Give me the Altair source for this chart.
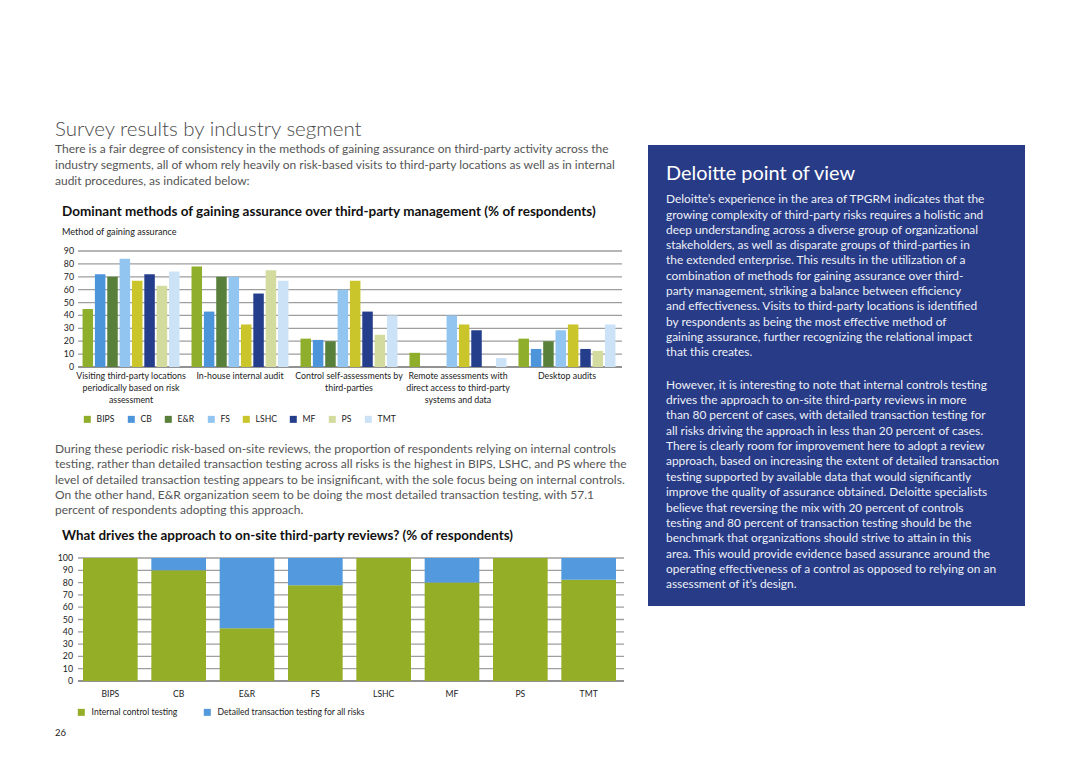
import altair as alt
import pandas as pd

FONT = "Lato"

# ---------------- data: chart 1 ----------------
segments = ["BIPS", "CB", "E&R", "FS", "LSHC", "MF", "PS", "TMT"]
seg_colors = ["#8FAE2C", "#4C95DB", "#58803A", "#92C5F0", "#C9C52B", "#243E8C", "#D3DB9F", "#CCE3F7"]

methods = [
    "Visiting third-party locations periodically based on risk assessment",
    "In-house internal audit",
    "Control self-assessments by third-parties",
    "Remote assessments with direct access to third-party systems and data",
    "Desktop audits",
]
method_labels = [
    "Visiting third-party locations\nperiodically based on risk\nassessment",
    "In-house internal audit",
    "Control self-assessments by\nthird-parties",
    "Remote assessments with\ndirect access to third-party\nsystems and data",
    "Desktop audits",
]
visiting = [45, 72, 70, 84, 67, 72, 63, 74]
inhouse = [78, 43, 70, 70, 33, 57, 75, 67]
control = [22, 21, 20, 60, 67, 43, 25, 40]
remote = [11, 0, 0, 40, 33, 28.5, 0, 7]
desktop = [22, 14, 20, 28.5, 33, 14, 12.5, 33]
c1_ticks = [0, 10, 20, 30, 40, 50, 60, 70, 80, 90]

# ---------------- data: chart 2 ----------------
drivers = ["Internal control testing", "Detailed transaction testing for all risks"]
driver_colors = ["#94AE27", "#5299DD"]
internal = [100, 90, 42.9, 77.8, 100, 80, 100, 82.4]
detailed = [0, 10, 57.1, 22.2, 0, 20, 0, 17.6]
c2_ticks = [0, 10, 20, 30, 40, 50, 60, 70, 80, 90, 100]

# ---------------- texts ----------------
page_title = "Survey results by industry segment"
intro_lines = [
    "There is a fair degree of consistency in the methods of gaining assurance on third-party activity across the",
    "industry segments, all of whom rely heavily on risk-based visits to third-party locations as well as in internal",
    "audit procedures, as indicated below:",
]
chart1_title = "Dominant methods of gaining assurance over third-party management (% of respondents)"
chart1_sub = "Method of gaining assurance"
mid_lines = [
    "During these periodic risk-based on-site reviews, the proportion of respondents relying on internal controls",
    "testing, rather than detailed transaction testing across all risks is the highest in BIPS, LSHC, and PS where the",
    "level of detailed transaction testing appears to be insignificant, with the sole focus being on internal controls.",
    "On the other hand, E&R organization seem to be doing the most detailed transaction testing, with 57.1",
    "percent of respondents adopting this approach.",
]
chart2_title = "What drives the approach to on-site third-party reviews? (% of respondents)"
page_number = "26"
box_title = "Deloitte point of view"
box_lines1 = [
    "Deloitte\u2019s experience in the area of TPGRM indicates that the",
    "growing complexity of third-party risks requires a holistic and",
    "deep understanding across a diverse group of organizational",
    "stakeholders, as well as disparate groups of third-parties in",
    "the extended enterprise. This results in the utilization of a",
    "combination of methods for gaining assurance over third-",
    "party management, striking a balance between efficiency",
    "and effectiveness. Visits to third-party locations is identified",
    "by respondents as being the most effective method of",
    "gaining assurance, further recognizing the relational impact",
    "that this creates.",
]
box_lines2 = [
    "However, it is interesting to note that internal controls testing",
    "drives the approach to on-site third-party reviews in more",
    "than 80 percent of cases, with detailed transaction testing for",
    "all risks driving the approach in less than 20 percent of cases.",
    "There is clearly room for improvement here to adopt a review",
    "approach, based on increasing the extent of detailed transaction",
    "testing supported by available data that would significantly",
    "improve the quality of assurance obtained. Deloitte specialists",
    "believe that reversing the mix with 20 percent of controls",
    "testing and 80 percent of transaction testing should be the",
    "benchmark that organizations should strive to attain in this",
    "area. This would provide evidence based assurance around the",
    "operating effectiveness of a control as opposed to relying on an",
    "assessment of it\u2019s design.",
]

# ---------------- tables ----------------
rows = []
for m, vals in zip(methods, [visiting, inhouse, control, remote, desktop]):
    for s, v in zip(segments, vals):
        rows.append({"method": m, "segment": s, "value": v})
df1 = pd.DataFrame(rows)

rows2 = []
for i, s in enumerate(segments):
    rows2.append({"segment": s, "driver": drivers[0], "value": internal[i], "ord": 0})
    rows2.append({"segment": s, "driver": drivers[1], "value": detailed[i], "ord": 1})
df2 = pd.DataFrame(rows2)

GRID = "#9e9e9e"
AXIS_TXT = "#222222"
BODY = "#555555"


def text_block(txt, x, y, size, color, weight="normal", line_height=None, font=FONT):
    kw = dict(align="left", baseline="alphabetic", fontSize=size, font=font,
              color=color, fontWeight=weight, lineBreak="\n")
    if line_height:
        kw["lineHeight"] = line_height
    return alt.Chart(pd.DataFrame({"txt": [txt]})).mark_text(**kw).encode(
        x=alt.value(x), y=alt.value(y), text="txt:N")


# ---------------- chart 1 ----------------
X1 = dict(type="band", domain=methods, range=[68, 614], paddingInner=0.11, paddingOuter=0.06)
Y1 = dict(domain=[0, 90], range=[359, 243], nice=False)

grid1 = alt.Chart(pd.DataFrame({"t": c1_ticks})).mark_rule(strokeWidth=1.3).encode(
    y=alt.Y("t:Q", scale=alt.Scale(**Y1), axis=None),
    x=alt.value(70), x2=alt.value(614),
    color=alt.condition("datum.t == 0", alt.value("#6e6e6e"), alt.value(GRID)),
)
ylab1 = alt.Chart(pd.DataFrame({"t": c1_ticks})).mark_text(
    align="right", baseline="middle", fontSize=8.8, font=FONT, color=AXIS_TXT).encode(
    y=alt.Y("t:Q", scale=alt.Scale(**Y1), axis=None), x=alt.value(66), text="t:Q")
bars1 = alt.Chart(df1).mark_bar().encode(
    x=alt.X("method:N", scale=alt.Scale(**X1), axis=None),
    xOffset=alt.XOffset("segment:N", scale=alt.Scale(domain=segments, paddingInner=0.15, paddingOuter=0)),
    y=alt.Y("value:Q", scale=alt.Scale(**Y1), axis=None),
    color=alt.Color("segment:N", scale=alt.Scale(domain=segments, range=seg_colors),
                    legend=alt.Legend(orient="none", legendX=75, legendY=407, direction="horizontal",
                                      title=None, symbolType="square", symbolSize=49,
                                      symbolStrokeWidth=0, labelFontSize=8.6, labelFont=FONT,
                                      labelColor=AXIS_TXT, columnPadding=12, labelOffset=5,
                                      padding=0)),
)
xlab1 = alt.Chart(pd.DataFrame({"method": methods, "label": method_labels})).mark_text(
    lineBreak="\n", lineHeight=12, fontSize=8.8, font=FONT, color=AXIS_TXT,
    align="center", baseline="alphabetic").encode(
    x=alt.X("method:N", scale=alt.Scale(**X1), axis=None, bandPosition=0.5),
    y=alt.value(371), text="label:N")

# ---------------- chart 2 ----------------
X2 = dict(type="band", domain=segments, range=[75, 608], paddingInner=0.2, paddingOuter=0)
Y2 = dict(domain=[0, 100], range=[673, 550], nice=False)

grid2 = alt.Chart(pd.DataFrame({"t": c2_ticks})).mark_rule(strokeWidth=1.3).encode(
    y=alt.Y("t:Q", scale=alt.Scale(**Y2), axis=None),
    x=alt.value(70), x2=alt.value(616),
    color=alt.condition("datum.t == 0", alt.value("#6e6e6e"), alt.value(GRID)),
)
ylab2 = alt.Chart(pd.DataFrame({"t": c2_ticks})).mark_text(
    align="right", baseline="middle", fontSize=8.8, font=FONT, color=AXIS_TXT).encode(
    y=alt.Y("t:Q", scale=alt.Scale(**Y2), axis=None), x=alt.value(65), text="t:Q")
bars2 = alt.Chart(df2).mark_bar().encode(
    x=alt.X("segment:N", scale=alt.Scale(**X2), axis=None),
    y=alt.Y("value:Q", stack="zero", scale=alt.Scale(**Y2), axis=None),
    order=alt.Order("ord:Q"),
    color=alt.Color("driver:N", scale=alt.Scale(domain=drivers, range=driver_colors),
                    legend=alt.Legend(orient="none", legendX=69, legendY=700, direction="horizontal",
                                      title=None, symbolType="square", symbolSize=49,
                                      symbolStrokeWidth=0, labelFontSize=8.6, labelFont=FONT,
                                      labelColor=AXIS_TXT, columnPadding=25, labelOffset=6,
                                      padding=0)),
)
xlab2 = alt.Chart(pd.DataFrame({"segment": segments})).mark_text(
    fontSize=8.6, font=FONT, color=AXIS_TXT, align="center", baseline="alphabetic").encode(
    x=alt.X("segment:N", scale=alt.Scale(**X2), axis=None, bandPosition=0.5),
    y=alt.value(689), text="segment:N")

# ---------------- page texts & box ----------------
box = alt.Chart(pd.DataFrame({"a": [0]})).mark_rect(color="#273B86").encode(
    x=alt.value(640), x2=alt.value(1017), y=alt.value(137), y2=alt.value(598))

texts = [
    text_block(page_title, 47, 128, 20.5, "#4a4a4a", weight=300),
    text_block("\n".join(intro_lines), 47, 145.3, 12, BODY, line_height=16),
    text_block(chart1_title, 54, 207.5, 13.5, "#111111", weight="bold"),
    text_block(chart1_sub, 54, 227, 9.1, AXIS_TXT),
    text_block("\n".join(mid_lines), 47, 445, 12, BODY, line_height=15.3),
    text_block(chart2_title, 54, 531.5, 13.4, "#111111", weight="bold"),
    text_block(page_number, 47, 728, 9.5, "#222222"),
    text_block(box_title, 658, 172, 19.9, "#ffffff"),
    text_block("\n".join(box_lines1), 658, 195.3, 11.9, "#eef0f7", line_height=15.3),
    text_block("\n".join(box_lines2), 658, 380.5, 11.9, "#eef0f7", line_height=15.38),
]

chart = alt.layer(
    box, grid1, bars1, ylab1, xlab1, grid2, bars2, ylab2, xlab2, *texts
).resolve_scale(
    x="independent", y="independent", color="independent", xOffset="independent"
).resolve_legend(color="independent").properties(
    width=1064, height=745, autosize=alt.AutoSizeParams(type="none"), padding=0,
    background="white"
).configure_view(stroke=None)

chart.save("out.html", embed_options={"renderer": "svg", "actions": False})
